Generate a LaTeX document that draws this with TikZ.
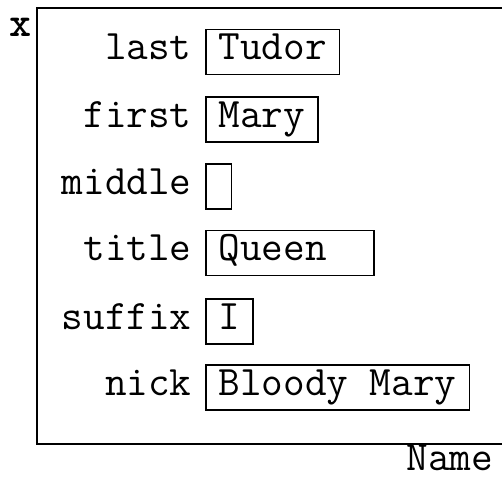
\documentclass[tikz,border=0pt]{standalone}
\usetikzlibrary{positioning}

\begin{document}
\begin{tikzpicture}[
    x=0.5pt, y=-0.5pt,
    field/.style={inner xsep=0pt, inner ysep=0pt, font=\fontsize{21}{25}\ttfamily,
                  text height=11pt, text depth=3.5pt},
    slot/.style={rectangle, draw, line width=0.75pt, inner xsep=6.4pt, inner ysep=0pt,
                 minimum height=22.5pt, font=\fontsize{21}{25}\ttfamily,
                 text height=11pt, text depth=3.5pt},
]
\clip (0,0) rectangle (502,477);

% outer record frame (runs past the right edge)
\draw[line width=1pt] (37,8) rectangle (530,444);
\node[field, font=\fontsize{21}{25}\ttfamily\bfseries, anchor=base west] (var) at (9,36) {x};
\node[field, text depth=0pt, anchor=base west] (type) at (406,470) {Name};

% field names, right aligned
\node[field, anchor=east] (last) at (192,52) {last};
\node[field, anchor=east] (first) at (192,119.5) {first};
\node[field, anchor=east] (middle) at (192,186.5) {middle};
\node[field, anchor=east] (title) at (192,253) {title};
\node[field, anchor=east] (suffix) at (192,321.5) {suffix};
\node[field, anchor=east] (nick) at (192,387.5) {nick};

% field values
\node[slot, right=6.5pt of last] (lastval) {Tudor};
\node[slot, right=6.5pt of first] (firstval) {Mary};
\node[slot, right=6.5pt of middle, minimum width=11.5pt] (middleval) {};
\node[slot, right=6.5pt of title, minimum width=84pt, text width=71.2pt] (titleval) {Queen};
\node[slot, right=6.5pt of suffix] (suffixval) {I};
\node[slot, right=6.5pt of nick] (nickval) {Bloody Mary};

\end{tikzpicture}
\end{document}
